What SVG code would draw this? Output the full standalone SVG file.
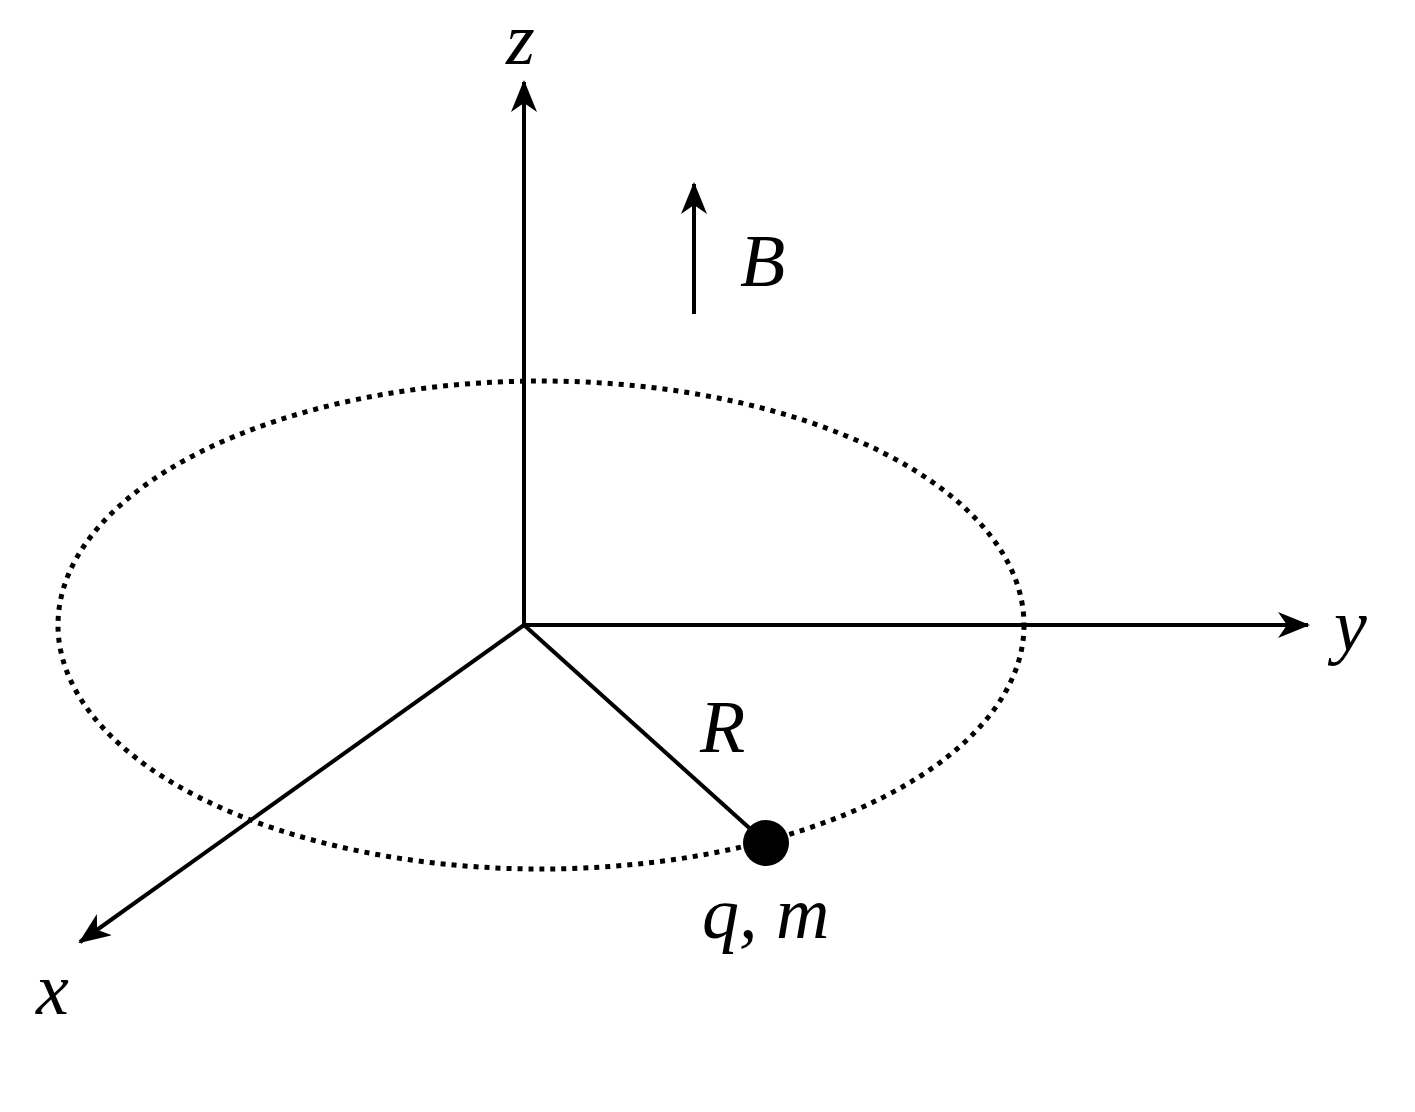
<svg xmlns="http://www.w3.org/2000/svg" width="1415" height="1112" viewBox="0 0 1415 1112">
<style>
.ax{stroke:#000;stroke-width:4;fill:none}
.t{font-family:"Liberation Serif",serif;font-style:italic;font-size:74px;fill:#000}
</style>
<defs>
<marker id="a" viewBox="0 0 32 26" refX="30" refY="13" markerWidth="32" markerHeight="26" markerUnits="userSpaceOnUse" orient="auto">
<path d="M0,0 L32,13 L0,26 L9,13 Z" fill="#000"/>
</marker>
</defs>
<rect width="1415" height="1112" fill="#fff"/>
<g id="orbit"><ellipse cx="541" cy="625" rx="483" ry="244" fill="none" stroke="#000" stroke-width="5" stroke-dasharray="5,6"/></g>
<g id="connectors">
<line class="ax" x1="524" y1="625" x2="524" y2="82" marker-end="url(#a)"/>
<line class="ax" x1="524" y1="625" x2="1308" y2="625" marker-end="url(#a)"/>
<line class="ax" x1="524" y1="625" x2="80" y2="942" marker-end="url(#a)"/>
<line class="ax" x1="524" y1="625" x2="766" y2="843"/>
<line class="ax" x1="694" y1="314" x2="694" y2="184" marker-end="url(#a)"/>
</g>
<g id="particle"><circle cx="766" cy="843" r="23" fill="#000"/></g>
<g id="labels">
<text class="t" x="506" y="64">z</text>
<text class="t" x="740" y="286">B</text>
<text class="t" x="1334" y="650">y</text>
<text class="t" x="700" y="752">R</text>
<text class="t" x="702" y="938">q, m</text>
<text class="t" x="36" y="1014">x</text>
</g>
</svg>
